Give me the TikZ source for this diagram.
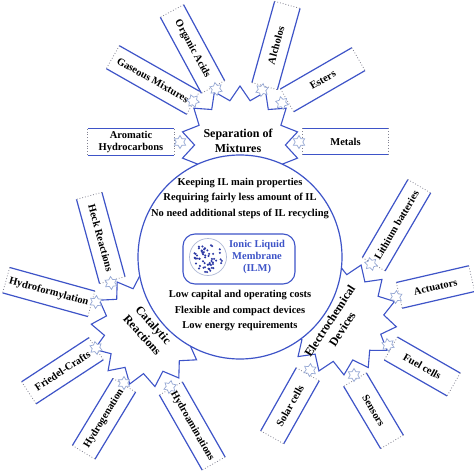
\documentclass[tikz,border=0pt]{standalone}
\usepackage{fontspec}
\setmainfont{Liberation Serif}
\usetikzlibrary{shapes.geometric}
\definecolor{lineblue}{RGB}{62,84,200}
\definecolor{starblue}{RGB}{150,168,212}
\definecolor{dotblue}{RGB}{45,58,165}
\definecolor{endgray}{RGB}{130,130,145}
\definecolor{ringgray}{RGB}{175,185,215}
\begin{document}
\begin{tikzpicture}[x=1pt,y=-1pt,
  boxline/.style={draw=lineblue,line width=1.2pt},
  boxend/.style={draw=endgray,dotted,line width=0.8pt},
  itembox/.style={inner sep=0pt,minimum height=26pt,align=center,
    font=\bfseries\fontsize{10.5}{12}\selectfont,text=black},
  icon/.style={star,star points=6,star point ratio=1.7,minimum size=13pt,
    inner sep=0pt,draw=starblue,line width=0.7pt,fill=white},
  burst/.style={star,star points=14,star point ratio=1.3,inner sep=0pt,
    draw=lineblue,line width=1.1pt,fill=white},
  bursttext/.style={align=center,font=\bfseries\fontsize{12}{15}\selectfont},
  maintext/.style={align=center,font=\bfseries\fontsize{10.5}{15.5}\selectfont},
  ilmtext/.style={align=center,text=lineblue,font=\bfseries\fontsize{10.5}{12}\selectfont}]
\useasboundingbox[fill=white] (0,0) rectangle (474,471);

% starbursts
\node[burst,minimum size=118pt] (sep) at (240,145) {};
\node[burst,minimum size=114pt,rotate=7] (cat) at (148,330) {};
\node[burst,minimum size=114pt,rotate=4] (ele) at (340,318) {};

% main circle
\node[circle,draw=lineblue,line width=1.2pt,fill=white,minimum size=204pt,inner sep=0pt] (main) at (240,257) {};

% ILM box
\node[draw=lineblue,line width=1.1pt,rounded corners=12pt,minimum width=112pt,minimum height=50pt] (ilm) at (239,259) {};
\node[circle,draw=ringgray,line width=0.7pt,minimum size=37pt,inner sep=0pt] (drop) at (208,257) {};
\pgfmathsetseed{11}
\foreach \i in {1,...,58}{
  \pgfmathsetmacro{\rr}{15.5*sqrt(rnd)}
  \pgfmathsetmacro{\aa}{360*rnd}
  \fill[dotblue,shift={(drop.center)}] (\aa:\rr) circle[radius=1.15pt];
}
\node[ilmtext] (ilmlabel) at (257,257) {Ionic Liquid\\Membrane\\(ILM)};

% item boxes
\foreach \nm/\px/\py/\ang/\len/\txt in {
 arom/131/142/0/86/{Aromatic\\Hydrocarbons},
 gas/153/80/-29.6/92/{Gaseous Mixtures},
 org/192.5/49/-61.6/86/{Organic Acids},
 alc/276/45.5/74.4/84/{Alcholos},
 est/322.75/79.75/30/82/{Esters},
 met/345.5/141.5/0/86/{Metals},
 heck/100.75/238/-74.7/87/{Heck Reactions},
 hyf/48.75/292/-15.5/88/{Hydroformylation},
 fri/62.5/370.75/33.2/80/{Friedel-Crafts},
 hyg/104/418.75/58.8/78/{Hydrogenation},
 hya/192.25/426/-60.3/86/{Hydroaminations},
 lib/396.5/225.25/59.7/90/{Lithium batteries},
 act/435.5/287/13/74/{Actuators},
 fue/422.25/366.5/-29.8/72/{Fuel cells},
 sen/373.5/410.75/-59.3/72/{Sensors},
 sol/290/405.75/60.6/72/{Solar cells}}{
  \node[itembox,minimum width=\len pt,rotate=\ang] (\nm) at (\px,\py) {\txt};
  \draw[boxline] (\nm.north west) -- (\nm.north east) (\nm.south west) -- (\nm.south east);
  \draw[boxend] (\nm.north west) -- (\nm.south west) (\nm.north east) -- (\nm.south east);
}

% small star icons
\foreach \nm/\px/\py/\ang in {
 iarom/180/142/0, igas/193/101/20, iorg/216/89/10, ialc/262/90/-10,
 iest/282/103/15, imet/299/142/0, iheck/111/283/5, ihyf/96/302/-5,
 ifri/96/348/10, ihyg/124/383/0, ihya/170/387/-10, ilib/371/264/15,
 iact/396/297/-5, ifue/388/345/10, isen/354/375/0, isol/310/370/-5}{
  \node[icon,rotate=\ang] (\nm) at (\px,\py) {};
}

% texts
\node[bursttext] (septxt) at (238,141) {Separation of\\Mixtures};
\node[bursttext,rotate=-48] (cattxt) at (148,330) {Catalytic\\Reactions};
\node[bursttext,rotate=57] (eletxt) at (336,325) {Electrochemical\\Devices};
\node[maintext] (pros) at (240,198.5) {Keeping IL main properties\\Requiring fairly less amount of IL\\No need additional steps of IL recycling};
\node[maintext] (cons) at (240,311) {Low capital and operating costs\\Flexible and compact devices\\Low energy requirements};
\end{tikzpicture}
\end{document}
